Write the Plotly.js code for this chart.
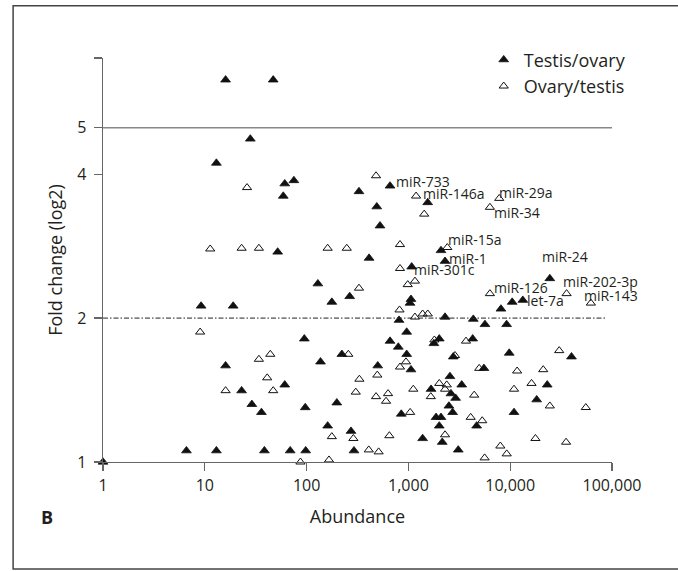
<!DOCTYPE html>
<html>
<head>
<meta charset="utf-8">
<script src="https://cdn.plot.ly/plotly-3.0.1.min.js"></script>
<style>html,body{margin:0;padding:0;background:#fff;}#chart{width:678px;height:571px;}</style>
</head>
<body>
<div id="chart"></div>
<script>
// Testis/ovary (filled triangles)
const testisX = [1,16,47,28,13,61,75,59,52,9.2,19,6.6,13,38.5,69,98,16,23,29,36,61,95,137,97,129,177,198,161,273,292,327,265,222,411,489,526,660,500,660,796,809,851,962,962,1060,1060,1037,1077,1547,2090,2290,2290,2010,1780,1670,2560,2760,2620,2910,2500,2720,1870,2090,2010,1380,2150,3090,3340,4340,4280,5650,4680,5520,8110,10460,13300,9220,9780,10900,18200,23100,24500,40000];
const testisY = [1,6.3,6.3,4.74,4.22,3.82,3.88,3.60,2.75,2.12,2.12,1.056,1.056,1.056,1.056,1.056,1.59,1.41,1.32,1.27,1.45,1.81,1.62,1.30,2.36,2.16,1.33,1.19,1.16,1.056,3.68,2.22,1.68,2.67,3.42,3.12,3.78,1.59,1.79,1.74,1.98,1.26,1.87,1.68,1.56,2.19,2.15,2.56,3.49,2.77,2.63,2.01,1.81,1.77,1.42,1.51,1.66,1.39,1.36,1.31,1.27,1.24,1.24,1.19,1.12,1.10,1.06,1.45,1.99,1.81,1.94,1.19,1.57,2.09,2.16,2.18,1.94,1.69,1.27,1.35,1.45,2.42,1.66];
// Ovary/testis (open triangles)
const ovaryX = [481,26,1190,7800,6320,1430,11.3,23,34,161,248,827,2410,827,985,1160,327,6320,35800,62000,818,1160,1380,1550,9.0,3680,1800,34,44,257,947,827,2870,4960,11700,21100,30300,41,330,495,16,47,304,1117,2010,2380,2290,10900,16200,481,603,631,1660,4430,24500,55300,1040,4090,5310,2290,177,288,650,17700,35400,408,510,87,166,5610,8000,9240];
const ovaryY = [3.97,3.75,3.60,3.56,3.41,3.30,2.79,2.80,2.80,2.80,2.80,2.85,2.81,2.54,2.35,2.39,2.31,2.25,2.25,2.15,2.08,2.01,2.04,2.04,1.87,1.79,1.80,1.64,1.68,1.68,1.62,1.58,1.67,1.57,1.55,1.56,1.71,1.50,1.49,1.52,1.41,1.41,1.40,1.42,1.46,1.45,1.42,1.42,1.46,1.37,1.34,1.39,1.37,1.38,1.31,1.30,1.27,1.24,1.22,1.14,1.13,1.12,1.135,1.12,1.10,1.06,1.05,1.0,1.01,1.02,1.08,1.04];
// point labels
const labelTexts = ['miR-733','miR-146a','miR-29a','miR-34','miR-15a','miR-1','miR-301c','miR-24','miR-126','let-7a','miR-202-3p','miR-143'];
// axes ticks
const xTickVals = [1,10,100,1000,10000,100000];
const xTickText = ['1','10','100','1,000','10,000','100,000'];
const yTickVals = [1,2,4,5,7];
const yTickText = ['1','2','4','5',''];
const seriesNames = ['Testis/ovary','Ovary/testis'];

const FONT = '"Open Sans", "Noto Sans", sans-serif';
const TXT = '#231f20';

// label placement (paper coords, left/middle anchored)
const labelPos = [[0.5736,0.6945],[0.6260,0.6653],[0.7751,0.6668],[0.7665,0.6184],[0.6750,0.5516],[0.6782,0.5046],[0.6095,0.4774],[0.8601,0.5085],[0.7653,0.4328],[0.8320,0.3997],[0.9027,0.4467],[0.9431,0.4113]];

const annotations = labelTexts.map((t,i)=>({
  text: t, xref:'paper', yref:'paper', x: labelPos[i][0], y: labelPos[i][1],
  xanchor:'left', yanchor:'middle', showarrow:false, borderpad:0,
  font:{family:FONT, size:14, color:TXT}
}));
annotations.push({text:'<b>B</b>', xref:'paper', yref:'paper', x:-0.1093, y:-0.1353,
  xanchor:'center', yanchor:'middle', showarrow:false, font:{family:FONT, size:18, color:TXT}});

const traces = [
  {x: testisX, y: testisY, name: seriesNames[0], mode:'markers', type:'scatter', cliponaxis:false,
   marker:{symbol:'triangle-up', size:8.5, color:'#111', line:{color:'#111', width:0.8}}},
  {x: ovaryX, y: ovaryY, name: seriesNames[1], mode:'markers', type:'scatter', cliponaxis:false,
   marker:{symbol:'triangle-up-open', size:8, color:'#111', line:{color:'#111', width:1}}}
];

const layout = {
  width:678, height:571,
  margin:{l:102.7, r:65.7, t:58, b:108.7, pad:0},
  paper_bgcolor:'#fff', plot_bgcolor:'#fff',
  font:{family:FONT, color:TXT},
  showlegend:true,
  legend:{x:0.748, y:1.041, xanchor:'left', yanchor:'top', bgcolor:'rgba(0,0,0,0)',
    font:{family:FONT, size:18, color:TXT}, tracegroupgap:0},
  xaxis:{type:'log', range:[0,5], tickvals:xTickVals, ticktext:xTickText,
    ticks:'outside', ticklen:8, tickcolor:'#666', tickwidth:1.2,
    showline:true, linecolor:'#666', linewidth:1.3, showgrid:false, zeroline:false,
    tickfont:{family:FONT, size:16, color:TXT},
    title:{text:'Abundance', font:{family:FONT, size:18, color:TXT}, standoff:16}},
  yaxis:{type:'log', range:[0, Math.log10(7)], tickvals:yTickVals, ticktext:yTickText,
    ticks:'outside', ticklen:8, tickcolor:'#666', tickwidth:1.2, ticklabelstandoff:4,
    showline:true, linecolor:'#666', linewidth:1.3, showgrid:false, zeroline:false,
    tickfont:{family:FONT, size:16, color:TXT},
    title:{text:'Fold change (log2)', font:{family:FONT, size:18, color:TXT}, standoff:10}},
  shapes:[
    {type:'line', xref:'paper', yref:'y', x0:0, x1:1, y0:5, y1:5, line:{color:'#888', width:1.5}},
    {type:'line', xref:'paper', yref:'y', x0:0, x1:0.99, y0:2, y1:2, line:{color:'#222', width:1, dash:'5px,2px,1.5px,2px'}},
    {type:'rect', xref:'paper', yref:'paper', x0:-0.1766, x1:1.3, y0:-0.2647, y1:1.1294, layer:'below',
     line:{color:'#444', width:1.5}, fillcolor:'rgba(0,0,0,0)'}
  ],
  annotations: annotations
};

Plotly.newPlot('chart', traces, layout, {staticPlot:true, displayModeBar:false});
</script>
</body>
</html>
